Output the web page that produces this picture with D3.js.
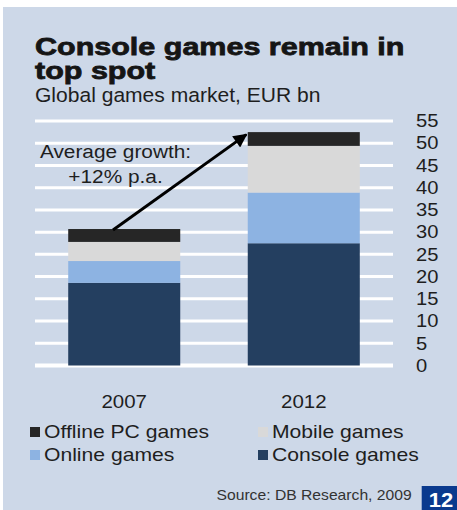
<!DOCTYPE html>
<html><head><meta charset="utf-8">
<script src="https://cdn.jsdelivr.net/npm/d3@7"></script>
<style>
html,body{margin:0;padding:0;background:#fff;}
svg{display:block;}
text{font-family:"Liberation Sans",Arial,sans-serif;}
</style></head>
<body>
<script>
// ---- data ----
const years = ["2007", "2012"];
const seriesNames = ["Console games", "Online games", "Mobile games", "Offline PC games"];
const consoleGames = [18.6, 27.5];
const onlineGames = [4.9, 11.4];
const mobileGames = [4.3, 10.5];
const offlinePC = [2.9, 3.1];
const tickValues = [0, 5, 10, 15, 20, 25, 30, 35, 40, 45, 50, 55];
const titleLines = ["Console games remain in", "top spot"];
const subtitle = "Global games market, EUR bn";
const annotation = ["Average growth:", "+12% p.a."];
const legendOrder = ["Offline PC games", "Mobile games", "Online games", "Console games"];
const sourceText = "Source: DB Research, 2009";
const pageNo = "12";

// ---- styles ----
const colors = {
  "Console games": "#243f60",
  "Online games": "#8db3e2",
  "Mobile games": "#d9d9d9",
  "Offline PC games": "#262626"
};
const W = 457, H = 510;
const SX = 1.12; // horizontal stretch of the reference typography

const svg = d3.select("body").append("svg").attr("width", W).attr("height", H);
svg.append("rect").attr("x", 3).attr("y", 7).attr("width", W - 3).attr("height", H - 7).attr("fill", "#cdd8e8");

function txt(x, y, s, size, o = {}) {
  const t = svg.append("text")
    .attr("transform", `translate(${x},${y}) scale(${o.sx || SX},1)`)
    .attr("font-size", size)
    .attr("fill", o.fill || "#1e1e1e")
    .attr("text-anchor", o.anchor || "start");
  if (Array.isArray(s)) {
    s.forEach((line, i) => t.append("tspan").attr("x", 0).attr("dy", i === 0 ? 0 : (o.lh || size)).text(line));
  } else {
    t.text(s);
  }
  if (o.bold) t.attr("font-weight", "bold");
  if (o.stroke) t.attr("stroke", o.fill || "#1e1e1e").attr("stroke-width", o.stroke);
  return t;
}

// title (one text block, two lines) + subtitle
txt(35, 55, titleLines, 24.5, {bold: true, sx: 1.245, stroke: 0.8, fill: "#151515", lh: 24});
txt(35, 102, subtitle, 19.5, {sx: 1.08});

// scales
const x = d3.scaleBand().domain(years).range([35, 393]).paddingInner(0.376).paddingOuter(0.185);
const y = d3.scaleLinear().domain([0, 55]).range([365.5, 121]);

// gridlines
svg.append("g").selectAll("line").data(tickValues).join("line")
  .attr("x1", 35).attr("x2", 393)
  .attr("y1", d => y(d)).attr("y2", d => y(d))
  .attr("stroke", "#fff").attr("stroke-width", d => d === 0 ? 4 : 3);

// axis labels on right
const axis = d3.axisRight(y).tickValues(tickValues).tickSize(0).tickPadding(0);
const ag = svg.append("g").attr("transform", "translate(416,0)").call(axis);
ag.select(".domain").remove();
ag.selectAll("text").attr("font-size", 18).attr("fill", "#1e1e1e")
  .attr("font-family", "Liberation Sans, Arial, sans-serif")
  .attr("transform", `scale(${SX},1)`);

// stacked bars
const table = years.map((yr, i) => ({
  year: yr,
  "Console games": consoleGames[i],
  "Online games": onlineGames[i],
  "Mobile games": mobileGames[i],
  "Offline PC games": offlinePC[i]
}));
const stacked = d3.stack().keys(seriesNames)(table);
svg.append("g").selectAll("g").data(stacked).join("g")
  .attr("fill", d => colors[d.key])
  .selectAll("rect").data(d => d).join("rect")
  .attr("x", d => x(d.data.year))
  .attr("width", x.bandwidth())
  .attr("y", d => y(d[1]))
  .attr("height", d => y(d[0]) - y(d[1]));

// category labels
years.forEach(yr => txt(x(yr) + x.bandwidth() / 2, 408, yr, 18.6, {anchor: "middle", sx: 1.1}));

// growth arrow
const totals = table.map(d => d3.sum(seriesNames, k => d[k]));
const defs = svg.append("defs");
defs.append("marker").attr("id", "ah").attr("viewBox", "0 0 10 10")
  .attr("refX", 9).attr("refY", 5).attr("markerWidth", 5.2).attr("markerHeight", 4.6)
  .attr("orient", "auto").attr("markerUnits", "strokeWidth")
  .append("path").attr("d", "M0,0 L10,5 L0,10 Z").attr("fill", "#000");
svg.append("line")
  .attr("x1", x(years[0]) + x.bandwidth() * 0.4).attr("y1", y(totals[0]) + 1)
  .attr("x2", x(years[1]) - 1.5).attr("y2", y(totals[1]) + 2.5)
  .attr("stroke", "#000").attr("stroke-width", 3).attr("marker-end", "url(#ah)");

// annotation
txt(115.5, 158.3, annotation[0], 18.6, {anchor: "middle"});
txt(115.5, 183.3, annotation[1], 18.6, {anchor: "middle"});

// legend
const legPos = [[30, 427], [258, 427], [30, 450], [258, 450]];
legendOrder.forEach((name, i) => {
  const [lx, ly] = legPos[i];
  svg.append("rect").attr("x", lx).attr("y", ly).attr("width", 10).attr("height", 10).attr("fill", colors[name]);
  txt(lx + 14, ly + 11, name, 18.7, {sx: 1.13});
});

// source + page box
txt(411.7, 500, sourceText, 14, {anchor: "end", sx: 1.12, fill: "#333"});
svg.append("rect").attr("x", 421.7).attr("y", 486).attr("width", W - 421.7).attr("height", H - 486).attr("fill", "#0a3a8e");
txt(441, 507, pageNo, 20, {anchor: "middle", bold: true, fill: "#fff", sx: 1.1});
</script>
</body></html>
